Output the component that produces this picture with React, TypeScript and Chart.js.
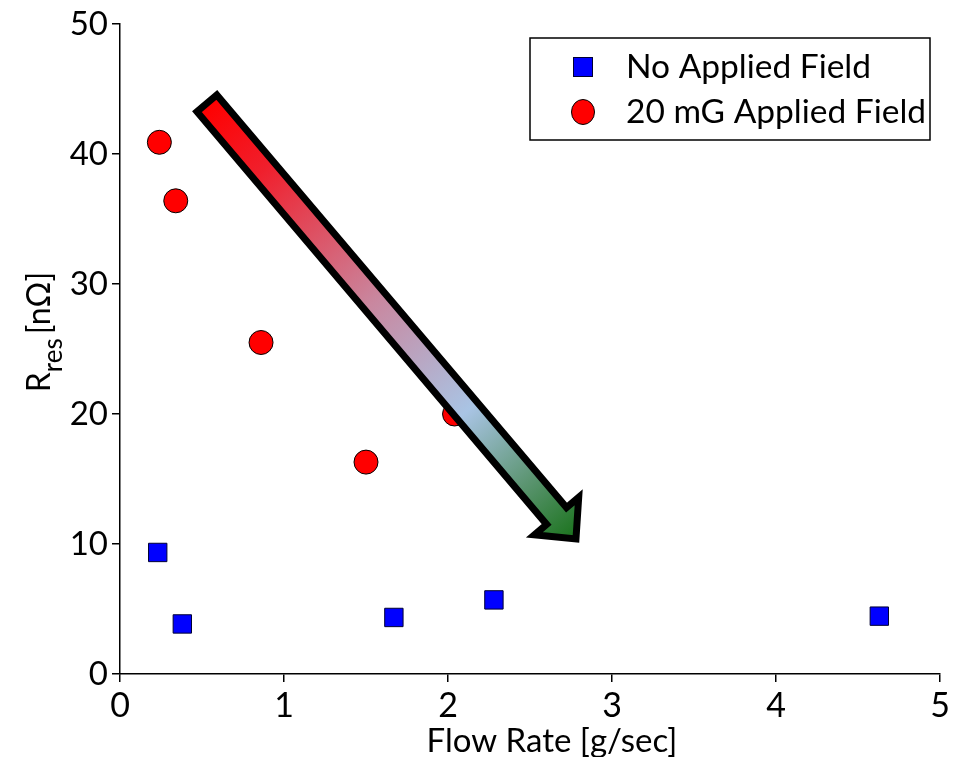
import React, { useEffect, useRef } from "react";
import { Chart, registerables } from "chart.js";

Chart.register(...registerables);

const noFieldX = [0.23, 0.38, 1.67, 2.28, 4.63];
const noFieldY = [9.35, 3.85, 4.35, 5.7, 4.45];
const fieldX = [0.24, 0.34, 0.86, 1.5, 2.04];
const fieldY = [40.9, 36.4, 25.5, 16.3, 20.0];
const xTicks = [0, 1, 2, 3, 4, 5];
const yTicks = [0, 10, 20, 30, 40, 50];
const seriesLabels = ["No Applied Field", "20 mG Applied Field"];
const arrowFrom = [0.53, 43.9];
const arrowTo = [2.8, 10.1];

const FONT = "Lato, 'Open Sans', sans-serif";

const overlayPlugin = {
  id: "overlay",
  afterDatasetsDraw(chart: any) {
    const ctx = chart.ctx;
    const xs = chart.scales.x;
    const ys = chart.scales.y;
    const x0 = xs.getPixelForValue(arrowFrom[0]);
    const y0 = ys.getPixelForValue(arrowFrom[1]);
    const x1 = xs.getPixelForValue(arrowTo[0]);
    const y1 = ys.getPixelForValue(arrowTo[1]);
    const dx = x1 - x0, dy = y1 - y0;
    const L = Math.hypot(dx, dy) - 5;
    const ang = Math.atan2(dy, dx);
    const w = 13, h = 29, hl = 30;
    const grad = ctx.createLinearGradient(x0, y0, x1, y1);
    grad.addColorStop(0, "#ff0000");
    grad.addColorStop(0.15, "#f01f2c");
    grad.addColorStop(0.45, "#c9879f");
    grad.addColorStop(0.7, "#a9c4e4");
    grad.addColorStop(0.86, "#5c9572");
    grad.addColorStop(1, "#157015");
    ctx.save();
    ctx.translate(x0, y0);
    ctx.rotate(ang);
    ctx.beginPath();
    ctx.moveTo(0, -w);
    ctx.lineTo(L - hl, -w);
    ctx.lineTo(L - hl, -h);
    ctx.lineTo(L, 0);
    ctx.lineTo(L - hl, h);
    ctx.lineTo(L - hl, w);
    ctx.lineTo(0, w);
    ctx.closePath();
    ctx.restore();
    ctx.save();
    ctx.fillStyle = grad;
    ctx.fill();
    ctx.lineWidth = 7;
    ctx.lineJoin = "miter";
    ctx.strokeStyle = "#000";
    ctx.stroke();
    ctx.restore();
  },
  afterDraw(chart: any) {
    const ctx = chart.ctx;
    ctx.save();
    // legend
    ctx.fillStyle = "#fff";
    ctx.fillRect(522, 30, 400, 102);
    ctx.strokeStyle = "#000";
    ctx.lineWidth = 1.5;
    ctx.strokeRect(522, 30, 400, 102);
    ctx.fillStyle = "#0000ff";
    ctx.fillRect(565.5, 49.5, 19, 19);
    ctx.lineWidth = 1;
    ctx.strokeStyle = "#000033";
    ctx.strokeRect(565.5, 49.5, 19, 19);
    ctx.beginPath();
    ctx.ellipse(575, 104, 11.5, 12.5, 0, 0, Math.PI * 2);
    ctx.fillStyle = "#ff0000";
    ctx.fill();
    ctx.strokeStyle = "#000";
    ctx.stroke();
    ctx.fillStyle = "#000";
    ctx.font = `33.5px ${FONT}`;
    ctx.textBaseline = "middle";
    ctx.textAlign = "left";
    ctx.fillText(chart.data.datasets[0].label, 618, 59);
    ctx.fillText(chart.data.datasets[1].label, 618, 104);
    // x title
    ctx.textAlign = "center";
    ctx.font = `33px ${FONT}`;
    ctx.fillText("Flow Rate [g/sec]", 544, 733);
    // y title
    ctx.translate(32, 324);
    ctx.rotate(-Math.PI / 2);
    ctx.textAlign = "left";
    const mainF = `32px ${FONT}`;
    const subF = `26px ${FONT}`;
    ctx.font = mainF;
    const wR = ctx.measureText("R").width;
    const wB = ctx.measureText("[nΩ]").width;
    const gap = 4;
    ctx.font = subF;
    const wS = ctx.measureText("res").width;
    const tot = wR + wS + gap + wB;
    let cx = -tot / 2;
    ctx.font = mainF;
    ctx.fillText("R", cx, 0);
    cx += wR;
    ctx.font = subF;
    ctx.fillText("res", cx, 14);
    cx += wS + gap;
    ctx.font = mainF;
    ctx.fillText("[nΩ]", cx, 0);
    ctx.restore();
  },
};

export default function App() {
  const ref = useRef<HTMLCanvasElement>(null);
  useEffect(() => {
    if (!ref.current) return;
    const chart = new Chart(ref.current, {
      type: "scatter",
      data: {
        datasets: [
          {
            label: seriesLabels[0],
            data: noFieldX.map((x, i) => ({ x, y: noFieldY[i] })),
            pointStyle: "rect",
            pointRadius: 13,
            backgroundColor: "#0000ff",
            borderColor: "#000033",
            borderWidth: 1,
          },
          {
            label: seriesLabels[1],
            data: fieldX.map((x, i) => ({ x, y: fieldY[i] })),
            pointStyle: "circle",
            pointRadius: 12,
            backgroundColor: "#ff0000",
            borderColor: "#000",
            borderWidth: 1,
          },
        ],
      },
      options: {
        responsive: false,
        animation: false,
        layout: { autoPadding: false, padding: { top: 16, right: 9, left: 0, bottom: 0 } },
        plugins: { legend: { display: false }, tooltip: { enabled: false } },
        scales: {
          x: {
            type: "linear",
            min: xTicks[0],
            max: xTicks[xTicks.length - 1],
            afterBuildTicks: (s: any) => {
              s.ticks = xTicks.map((v) => ({ value: v }));
            },
            afterFit: (s: any) => {
              s.height = 83;
              s.paddingLeft = 0;
              s.paddingRight = 0;
            },
            ticks: { color: "#000", font: { family: FONT, size: 34 }, padding: 4 },
            grid: { drawOnChartArea: false, color: "#000", tickLength: 8, lineWidth: 1.5 },
            border: { color: "#000", width: 1.5 },
          },
          y: {
            type: "linear",
            min: yTicks[0],
            max: yTicks[yTicks.length - 1],
            afterBuildTicks: (s: any) => {
              s.ticks = yTicks.map((v) => ({ value: v }));
            },
            afterFit: (s: any) => {
              s.width = 112;
              s.paddingTop = 0;
              s.paddingBottom = 0;
            },
            ticks: { color: "#000", font: { family: FONT, size: 33 }, padding: 4 },
            grid: { drawOnChartArea: false, color: "#000", tickLength: 8, lineWidth: 1.5 },
            border: { color: "#000", width: 1.5 },
          },
        },
      },
      plugins: [overlayPlugin],
    } as any);
    return () => chart.destroy();
  }, []);
  return <canvas ref={ref} width={941} height={749} style={{ display: "block" }} />;
}
